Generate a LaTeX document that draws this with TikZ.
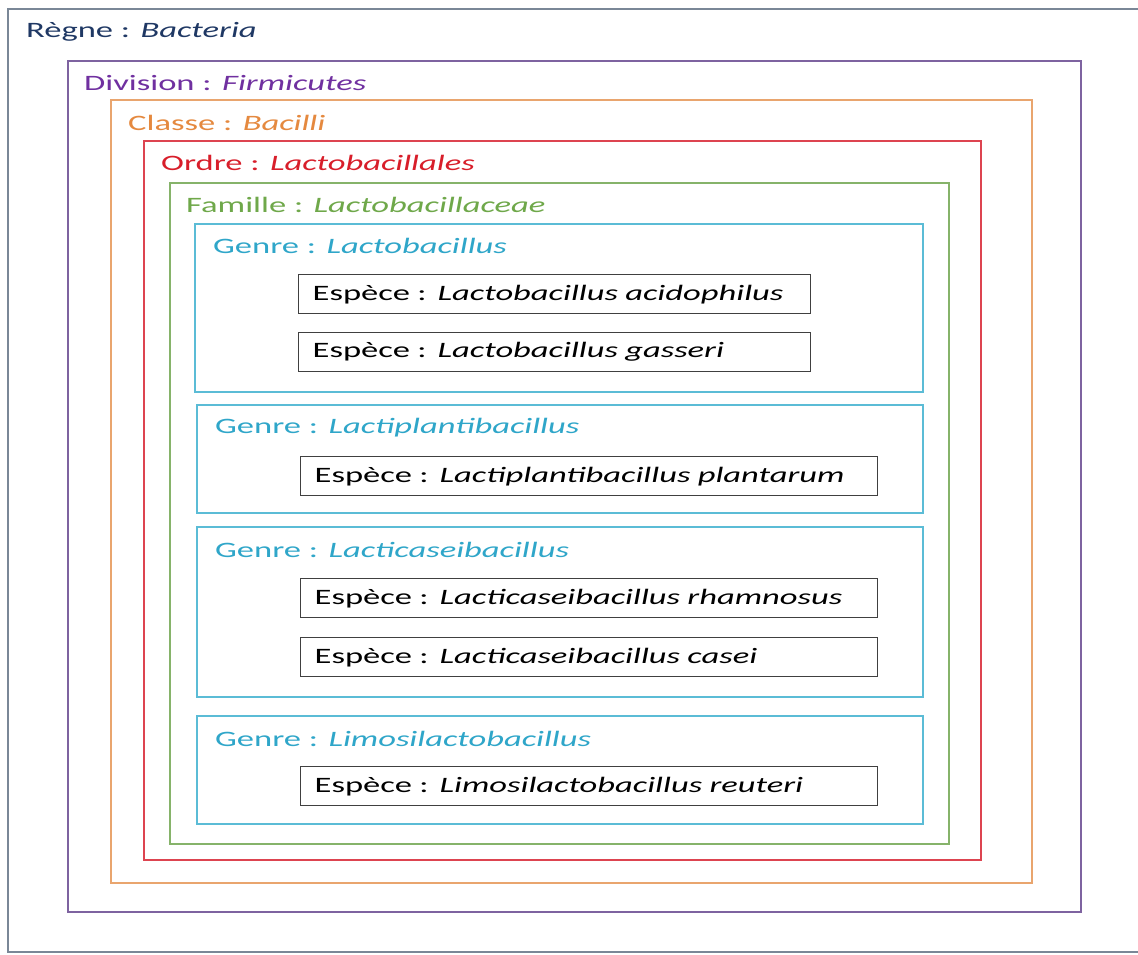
\documentclass[tikz,border=0pt]{standalone}
\usepackage{fontspec}
\setmainfont{Carlito}[FakeStretch=1.57]
\definecolor{regne}{HTML}{1F3864}
\definecolor{regnebox}{HTML}{7A8797}
\definecolor{division}{HTML}{7030A0}
\definecolor{divisionbox}{HTML}{7E63A0}
\definecolor{classe}{HTML}{E5893F}
\definecolor{classebox}{HTML}{E9A56E}
\definecolor{ordre}{HTML}{D81E2A}
\definecolor{ordrebox}{HTML}{DD4450}
\definecolor{famille}{HTML}{6FA84A}
\definecolor{famillebox}{HTML}{86B36A}
\definecolor{genre}{HTML}{2FA6C9}
\definecolor{genrebox}{HTML}{5BBCD6}
\tikzset{
  taxbox/.style={line width=1.8pt},
  rank/.style={anchor=west, inner sep=0pt, font=\fontsize{22}{26}\selectfont},
  espece/.style={draw=black!75, line width=1.3pt, anchor=north west, inner xsep=14pt,
    minimum height=39pt, text width=#1, align=left, font=\fontsize{22}{26}\selectfont}
}
\begin{document}
\begin{tikzpicture}[x=1pt, y=-1pt]
\useasboundingbox (0,0) rectangle (1138,954);
\fill[white] (0,0) rectangle (1138,954);

% Boxes, outer to inner
\draw[taxbox, regnebox] (1138,9) -- (8,9) -- (8,952) -- (1138,952);
\draw[taxbox, divisionbox] (68,61) rectangle (1081,912);
\draw[taxbox, classebox] (111,100) rectangle (1032,883);
\draw[taxbox, ordrebox] (144,141) rectangle (981,860);
\draw[taxbox, famillebox] (170,183) rectangle (949,844);
\draw[taxbox, genrebox] (195,224) rectangle (923,392);
\draw[taxbox, genrebox] (197,405) rectangle (923,513);
\draw[taxbox, genrebox] (197,527) rectangle (923,697);
\draw[taxbox, genrebox] (197,716) rectangle (923,824);

% Rank labels
\node[rank, regne] (regne) at (26,32) {Règne : \textit{Bacteria}};
\node[rank, division] (division) at (84,83) {Division : \textit{Firmicutes}};
\node[rank, classe] (classe) at (128,123) {Classe : \textit{Bacilli}};
\node[rank, ordre] (ordre) at (161,163) {Ordre : \textit{Lactobacillales}};
\node[rank, famille] (famille) at (186,205) {Famille : \textit{Lactobacillaceae}};
\node[rank, genre] (g1) at (213,246) {Genre : \textit{Lactobacillus}};
\node[rank, genre] (g2) at (215,428) {Genre : \textit{Lactiplantibacillus}};
\node[rank, genre] (g3) at (215,550) {Genre : \textit{Lacticaseibacillus}};
\node[rank, genre] (g4) at (215,739) {Genre : \textit{Limosilactobacillus}};

% Species
\node[espece=484pt] (acido) at (298,274) {Espèce : \textit{Lactobacillus acidophilus}};
\node[espece=484pt] (gasseri) at (298,332) {Espèce : \textit{Lactobacillus gasseri}};
\node[espece=549pt] (planta) at (300,456) {Espèce : \textit{Lactiplantibacillus plantarum}};
\node[espece=549pt] (rhamno) at (300,578) {Espèce : \textit{Lacticaseibacillus rhamnosus}};
\node[espece=549pt] (casei) at (300,637) {Espèce : \textit{Lacticaseibacillus casei}};
\node[espece=549pt] (reuteri) at (300,766) {Espèce : \textit{Limosilactobacillus reuteri}};
\end{tikzpicture}
\end{document}
